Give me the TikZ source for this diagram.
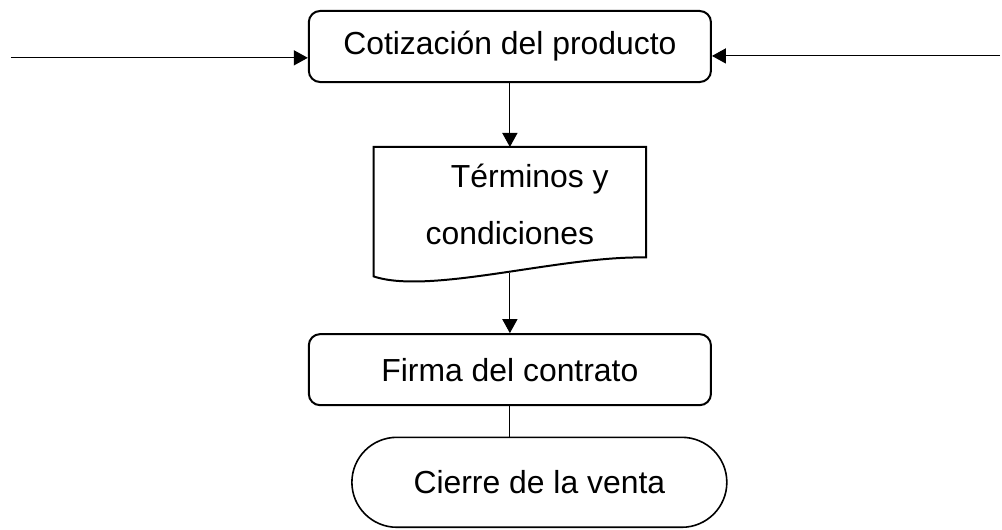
\documentclass[tikz,border=0pt]{standalone}
\usepackage{fontspec}
\setmainfont{Liberation Sans}
\usetikzlibrary{positioning,arrows.meta}

\begin{document}
\begin{tikzpicture}
\tikzset{node distance=2cm,
    font=\fontsize{24}{43}\selectfont,
    block/.style={rectangle, draw, line width=1.5pt, rounded corners=3mm, minimum height=18.8mm, minimum width=106.4mm},
    docpage/.style={rectangle, minimum height=34.1mm, minimum width=72mm, align=center},
    terminal/.style={rectangle, draw, line width=1.2pt, rounded corners=11.9mm, minimum height=23.8mm, minimum width=99.2mm},
    conn/.style={line width=0.8pt},
    >={Triangle[length=3.7mm, width=4mm]}
}
  \useasboundingbox (-134.9mm,12.3mm) rectangle (130.2mm,-127.7mm);
  \node[block] (quote) {Cotización del producto};
  \node[coordinate, left of=quote, node distance=132mm, yshift=-3mm] (fromleft) {};
  \node[coordinate, right of=quote, node distance=129.7mm, yshift=-2.5mm] (fromright) {};
  \node[docpage, below of=quote, node distance=43.7mm] (terms) {\hspace*{30pt}Términos y\\condiciones\rule[-11pt]{0pt}{0pt}};
  \draw[line width=1.5pt] (terms.north west) -- (terms.north east) -- ([yshift=5mm]terms.south east)
    .. controls +(-22.8mm,0.5mm) and +(14.8mm,-5mm) .. (terms.south west) -- cycle;
  \node[block, below of=terms, node distance=41.8mm] (sign) {Firma del contrato};
  \node[terminal, below of=sign, node distance=29.8mm, xshift=7.8mm] (close) {Cierre de la venta};
  \draw[conn,->] (fromleft) -- (fromleft -| quote.west);
  \draw[conn,->] (fromright) -- (fromright -| quote.east);
  \draw[conn,->] (quote) -- (terms);
  \draw[conn,->] ([yshift=0.8mm]terms.south) -- (sign);
  \draw[conn] (sign) -- (sign.south |- close.north);
\end{tikzpicture}
\end{document}
